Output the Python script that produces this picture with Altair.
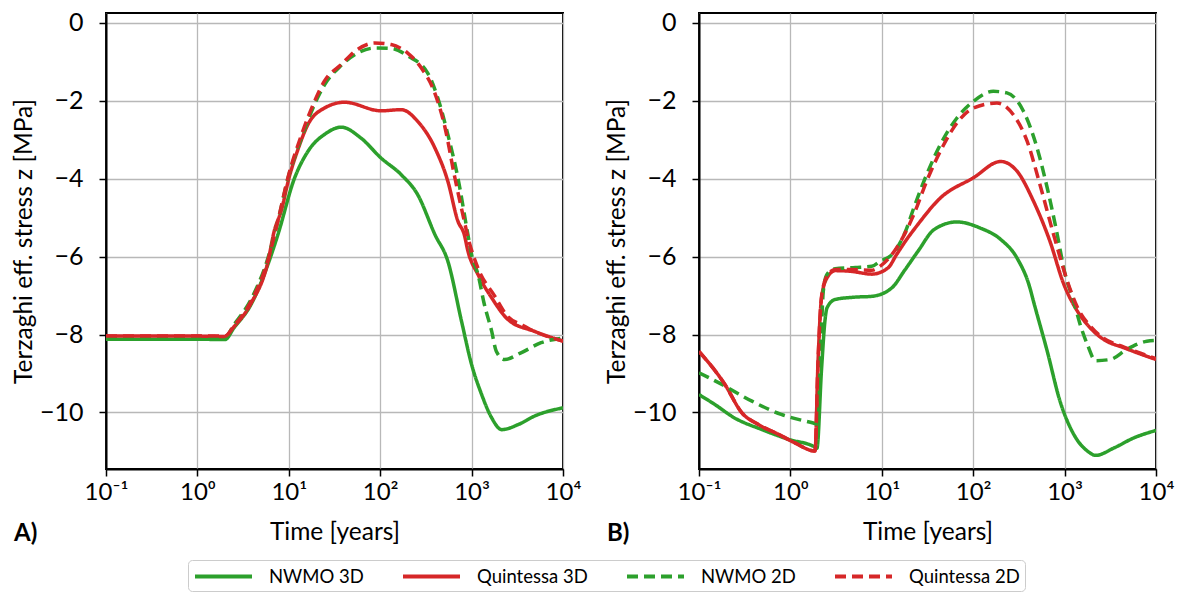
import altair as alt
import pandas as pd

SERIES = ["NWMO 3D", "Quintessa 3D", "NWMO 2D", "Quintessa 2D"]
COLORS = ["#2ca02c", "#d62728", "#2ca02c", "#d62728"]
DASHES = [[1, 0], [1, 0], [11, 6], [11, 6]]

X_TICKS = [0.1, 1, 10, 100, 1000, 10000]
X_LABELS = ["10⁻¹", "10⁰", "10¹", "10²", "10³", "10⁴"]
Y_TICKS = [0, -2, -4, -6, -8, -10]

# ---------------- Panel A ----------------
a_nwmo3d_t = [0.1, 1, 2.0, 2.51, 3.86, 5.89, 7.59, 11.5, 16.2, 25.1, 37.5, 61.7, 102, 170, 257, 398,
              550, 776, 1000, 1288, 1660, 2138, 3236, 4898, 10000]
a_nwmo3d_v = [-8.12, -8.12, -8.13, -7.83, -7.23, -6.21, -5.44, -4.0, -3.30, -2.85, -2.68, -2.96, -3.47,
              -3.90, -4.41, -5.44, -6.12, -7.66, -8.77, -9.54, -10.14, -10.44, -10.31, -10.09, -9.88]

a_quint3d_t = [0.1, 1, 2.0, 2.51, 3.86, 5.89, 6.92, 8.32, 10, 12.6, 16.2, 24.5, 40.7, 102, 170, 257,
               398, 550, 708, 832, 912, 1175, 1660, 2512, 4898, 10000]
a_quint3d_v = [-8.04, -8.04, -8.05, -7.80, -7.20, -6.15, -5.35, -4.8, -4.0, -3.25, -2.61, -2.19, -2.04,
               -2.26, -2.23, -2.53, -3.22, -4.07, -5.09, -5.44, -5.86, -6.46, -7.06, -7.62, -7.92, -8.17]

a_nwmo2d_t = [0.1, 1, 2.0, 2.51, 3.86, 5.89, 7.59, 9.77, 13.8, 19.1, 24.5, 37.2, 56.2, 87.1, 132, 200,
              331, 427, 550, 708, 912, 1000, 1175, 1380, 1660, 1862, 2291, 3467, 5754, 10000]
a_nwmo2d_v = [-8.07, -8.07, -8.07, -7.75, -7.10, -6.05, -5.10, -4.0, -2.95, -2.10, -1.60, -1.10, -0.78,
              -0.65, -0.66, -0.85, -1.29, -1.93, -2.87, -3.98, -5.44, -5.95, -6.46, -7.23, -7.92, -8.43,
              -8.64, -8.47, -8.21, -8.09]

a_quint2d_t = [0.1, 1, 2.0, 2.51, 3.86, 5.89, 7.59, 9.77, 13.8, 19.1, 24.5, 37.2, 56.2, 87.1, 132, 200,
               282, 389, 513, 646, 832, 912, 1175, 1778, 2512, 3548, 4898, 10000]
a_quint2d_v = [-8.04, -8.04, -8.04, -7.78, -7.15, -6.10, -5.09, -3.98, -2.87, -2.02, -1.50, -1.08, -0.69,
               -0.52, -0.56, -0.78, -1.16, -1.76, -2.70, -3.90, -5.09, -5.5, -6.3, -7.0, -7.55, -7.75,
               -7.92, -8.17]

# ---------------- Panel B ----------------
b_nwmo3d_t = [0.1, 0.148, 0.245, 0.49, 0.955, 1.86, 1.95, 2.19, 2.4, 2.51, 3.09, 5.13, 7.76, 12.9, 17.8,
              25.1, 37.2, 66.1, 120, 200, 302, 417, 457, 646, 891, 1259, 1778, 2188, 3467, 5754, 10000]
b_nwmo3d_v = [-9.54, -9.79, -10.14, -10.44, -10.69, -10.89, -10.92, -8.9, -7.6, -7.32, -7.10, -7.04, -7.02,
              -6.80, -6.35, -5.85, -5.31, -5.11, -5.27, -5.56, -6.04, -6.80, -7.15, -8.43, -9.71, -10.56,
              -10.99, -11.10, -10.91, -10.65, -10.46]

b_quint3d_t = [0.1, 0.192, 0.295, 0.447, 0.741, 1.12, 1.86, 2.0, 2.19, 2.51, 3.09, 4.68, 7.76, 11.7, 14.5,
               18.2, 24, 43.6, 100, 200, 302, 457, 692, 977, 1380, 1905, 2692, 4467, 6761, 10000]
b_quint3d_v = [-8.43, -9.28, -10.01, -10.31, -10.56, -10.78, -10.99, -8.77, -7.06, -6.55, -6.36, -6.38,
               -6.45, -6.29, -5.95, -5.6, -5.22, -4.50, -3.98, -3.56, -3.81, -4.58, -5.61, -6.70, -7.40,
               -7.83, -8.13, -8.34, -8.50, -8.64]

b_nwmo2d_t = [0.1, 0.178, 0.38, 0.794, 1.78, 2.0, 2.14, 2.29, 2.51, 3.09, 5.13, 7.76, 9.55, 12.9, 18.2,
              22.4, 30.9, 43.6, 66.1, 100, 166, 234, 355, 501, 646, 832, 1000, 1259, 1479, 1778, 2188,
              3162, 4786, 7943, 10000]
b_nwmo2d_v = [-8.98, -9.28, -9.71, -10.05, -10.27, -10.30, -8.5, -6.89, -6.46, -6.31, -6.28, -6.25, -6.12,
              -5.95, -5.35, -4.75, -3.90, -3.13, -2.45, -2.02, -1.76, -1.80, -2.27, -3.22, -4.24, -5.44,
              -6.40, -7.15, -7.74, -8.26, -8.67, -8.64, -8.38, -8.17, -8.15]

b_quint2d_t = [0.1, 0.192, 0.295, 0.447, 0.741, 1.12, 1.86, 2.0, 2.2, 2.51, 3.09, 4.68, 7.76, 9.55, 14.5,
               22.4, 30.9, 43.6, 66.1, 100, 182, 275, 389, 537, 759, 1072, 1380, 1905, 2692, 4467, 6761,
               10000]
b_quint2d_v = [-8.43, -9.28, -10.01, -10.31, -10.56, -10.78, -10.99, -8.77, -7.0, -6.5, -6.33, -6.33,
               -6.35, -6.25, -5.78, -4.92, -4.07, -3.30, -2.58, -2.19, -2.06, -2.36, -3.04, -4.15, -5.44,
               -6.63, -7.30, -7.78, -8.10, -8.32, -8.48, -8.62]

FONT = "Lato"


def panel_df(parts):
    rows = []
    for order, (name, ts, vs) in enumerate(parts):
        for t, v in zip(ts, vs):
            rows.append({"t": t, "v": v, "series": name, "o": order})
    return pd.DataFrame(rows)


df_a = panel_df([(SERIES[0], a_nwmo3d_t, a_nwmo3d_v), (SERIES[1], a_quint3d_t, a_quint3d_v),
                 (SERIES[2], a_nwmo2d_t, a_nwmo2d_v), (SERIES[3], a_quint2d_t, a_quint2d_v)])
df_b = panel_df([(SERIES[0], b_nwmo3d_t, b_nwmo3d_v), (SERIES[1], b_quint3d_t, b_quint3d_v),
                 (SERIES[2], b_nwmo2d_t, b_nwmo2d_v), (SERIES[3], b_quint2d_t, b_quint2d_v)])

label_expr = "[" + ",".join("'%s'" % s for s in X_LABELS) + "][round(log(datum.value)/LN10)+1]"

legend = alt.Legend(
    title=None, orient="none", legendX=82, legendY=547, direction="horizontal", columns=4,
    symbolType="M-1,0H5", symbolSize=361, symbolStrokeWidth=4, labelFontSize=18.5, labelFont=FONT,
    labelColor="black", labelOffset=53, columnPadding=31, padding=5, strokeColor="#cccccc",
    cornerRadius=4, fillColor="white", symbolOpacity=1,
)


def make_panel(df, tag):
    lines = alt.Chart(df).mark_line(strokeWidth=3.5, interpolate="monotone", clip=True).encode(
        x=alt.X("t:Q", title="Time [years]",
                scale=alt.Scale(type="log", domain=[0.1, 10000], nice=False),
                axis=alt.Axis(values=X_TICKS, labelExpr=label_expr, grid=True, labelFlush=False)),
        y=alt.Y("v:Q", title="Terzaghi eff. stress z [MPa]",
                scale=alt.Scale(domain=[-11.45, 0.25], nice=False, zero=False),
                axis=alt.Axis(values=Y_TICKS, format="d", grid=True)),
        color=alt.Color("series:N", scale=alt.Scale(domain=SERIES, range=COLORS), legend=legend),
        strokeDash=alt.StrokeDash("series:N", scale=alt.Scale(domain=SERIES, range=DASHES), legend=legend),
        order=alt.Order("o:Q"),
    )
    lab = alt.Chart(pd.DataFrame({"lab": [tag]})).mark_text(
        align="left", baseline="middle", fontSize=24, fontWeight="bold", font=FONT, color="black"
    ).encode(text="lab:N", x=alt.value(-92), y=alt.value(521))
    return alt.layer(lines, lab).properties(width=457, height=456)


chart = alt.hconcat(make_panel(df_a, "A)"), make_panel(df_b, "B)"), spacing=21).properties(
    padding={"left": 10, "top": 9, "right": 5, "bottom": 5}
).configure_view(stroke="black", strokeWidth=2).configure_axis(
    labelFont=FONT, titleFont=FONT, labelColor="black", titleColor="black",
    titleFontWeight="normal", gridColor="#b8b8b8", gridWidth=1.3, domainColor="black",
    domainWidth=2, tickColor="black", tickWidth=1.5, tickSize=7,
).configure_axisX(
    labelFontSize=24, titleFontSize=24.5, labelPadding=4, titlePadding=16,
).configure_axisY(
    labelFontSize=25, titleFontSize=24.5, labelPadding=16, titlePadding=3,
)

chart.save("out.html", embed_options={"renderer": "svg", "actions": False})
